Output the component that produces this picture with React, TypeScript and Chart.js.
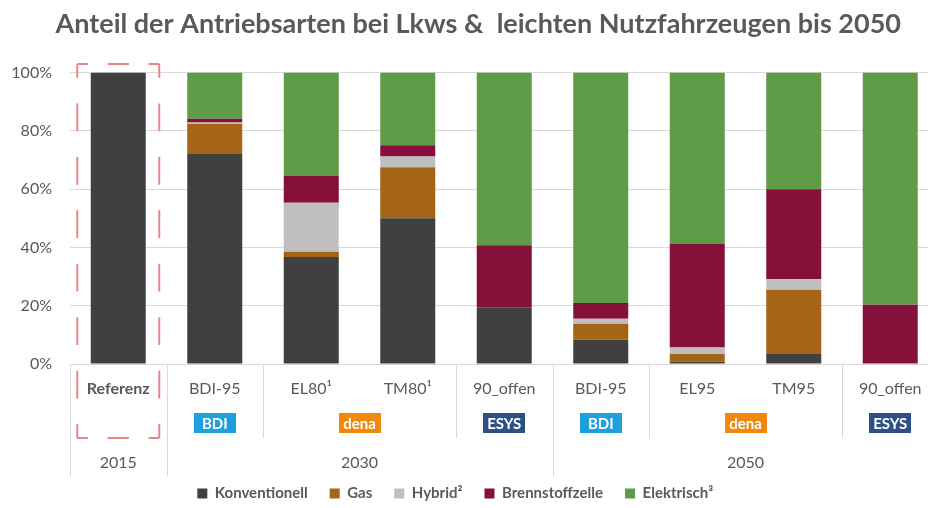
import React, { useEffect, useRef } from 'react';
import { Chart, registerables } from 'chart.js';

Chart.register(...registerables);

// ---------- data ----------
const chartTitle = 'Anteil der Antriebsarten bei Lkws &  leichten Nutzfahrzeugen bis 2050';
const categories = ['Referenz', 'BDI-95', 'EL80¹', 'TM80¹', '90_offen', 'BDI-95', 'EL95', 'TM95', '90_offen'];
const seriesNames = ['Konventionell', 'Gas', 'Hybrid²', 'Brennstoffzelle', 'Elektrisch³'];
const konventionell = [100, 72, 36.7, 50, 19.3, 8.3, 0.9, 3.4, 0];
const gas = [0, 10.3, 1.8, 17.5, 0, 5.5, 2.5, 22.1, 0];
const hybrid = [0, 0.5, 16.8, 3.7, 0, 1.7, 2.3, 3.6, 0];
const brennstoffzelle = [0, 1.3, 9.3, 3.8, 21.4, 5.4, 35.6, 30.8, 20.3];
const elektrisch = [0, 15.9, 35.4, 25, 59.3, 79.1, 58.7, 40.1, 79.7];
const yTickValues = [0, 20, 40, 60, 80, 100];
const sourceNames = ['BDI', 'dena', 'ESYS', 'BDI', 'dena', 'ESYS'];
const sourceFrom = [1, 2, 4, 5, 6, 8];
const sourceTo = [1, 3, 4, 5, 7, 8];
const yearLabels = ['2015', '2030', '2050'];
const yearFrom = [0, 1, 5];
const yearTo = [0, 4, 8];

// ---------- styles ----------
const FONT = 'Lato, "Open Sans", sans-serif';
const TEXT = '#595959';
const GRID = '#D9D9D9';
const seriesColors = ['#404040', '#A66416', '#BFBFBF', '#85103A', '#5E9C48'];
const sourceColors: Record<string, string> = { BDI: '#1DA0DB', dena: '#F0880C', ESYS: '#2E4F84' };

const seriesValues = [konventionell, gas, hybrid, brennstoffzelle, elektrisch];

function groupOf(i: number, from: number[], to: number[]) {
  for (let g = 0; g < from.length; g++) if (i >= from[g] && i <= to[g]) return g;
  return -1;
}

const overlayPlugin = {
  id: 'overlay',
  afterLayout(chart: any) {
    if (chart.titleBlock) { chart.titleBlock.left += 3; chart.titleBlock.right += 3; }
    if (chart.legend) { chart.legend.left -= 20; chart.legend.right -= 20; }
  },
  afterDraw(chart: any) {
    const ctx = chart.ctx as CanvasRenderingContext2D;
    const xs = chart.scales.x;
    const area = chart.chartArea;
    const half = (xs.getPixelForValue(1) - xs.getPixelForValue(0)) / 2;
    const bottom = area.bottom;
    const shortY = bottom + 74;
    const longY = bottom + 112;
    ctx.save();
    // separators
    ctx.strokeStyle = GRID;
    ctx.lineWidth = 1;
    const vline = (x: number, y2: number) => {
      ctx.beginPath();
      ctx.moveTo(Math.round(x) + 0.5, bottom);
      ctx.lineTo(Math.round(x) + 0.5, y2);
      ctx.stroke();
    };
    vline(xs.getPixelForValue(0) - half, longY);
    for (let i = 0; i < categories.length; i++) {
      const x = xs.getPixelForValue(i) + half;
      const yearChange = groupOf(i, yearFrom, yearTo) !== groupOf(i + 1, yearFrom, yearTo);
      const srcChange = groupOf(i, sourceFrom, sourceTo) !== groupOf(i + 1, sourceFrom, sourceTo);
      if (yearChange) vline(x, longY);
      else if (srcChange) vline(x, shortY);
    }
    // badges
    ctx.textAlign = 'center';
    ctx.textBaseline = 'middle';
    for (let g = 0; g < sourceNames.length; g++) {
      const cx = (xs.getPixelForValue(sourceFrom[g]) + xs.getPixelForValue(sourceTo[g])) / 2;
      const cy = bottom + 59;
      const w = 42, h = 20;
      ctx.fillStyle = sourceColors[sourceNames[g]];
      ctx.fillRect(Math.round(cx - w / 2), Math.round(cy - h / 2), w, h);
      ctx.fillStyle = '#FFFFFF';
      ctx.font = `bold 15px ${FONT}`;
      ctx.fillText(sourceNames[g], cx, cy + 1);
    }
    // years
    ctx.fillStyle = TEXT;
    ctx.font = `16px ${FONT}`;
    for (let g = 0; g < yearLabels.length; g++) {
      const cx = (xs.getPixelForValue(yearFrom[g]) + xs.getPixelForValue(yearTo[g])) / 2;
      ctx.fillText(yearLabels[g], cx, bottom + 99);
    }
    // dashed reference box
    const c0 = xs.getPixelForValue(0);
    const L = c0 - 41, R = c0 + 41, T = area.top - 8.5, B = shortY;
    ctx.strokeStyle = '#E8858C';
    ctx.lineWidth = 2;
    const side = (x1: number, y1: number, x2: number, y2: number) => {
      const len = Math.hypot(x2 - x1, y2 - y1);
      const k = Math.max(1, Math.round(len / 52));
      const p = len / k;
      const d = p * 0.52;
      ctx.setLineDash([d, p - d]);
      ctx.lineDashOffset = d / 2;
      ctx.beginPath();
      ctx.moveTo(x1, y1);
      ctx.lineTo(x2, y2);
      ctx.stroke();
    };
    side(L, T, R, T);
    side(R, T, R, B);
    side(R, B, L, B);
    side(L, B, L, T);
    ctx.restore();
  },
};

export default function App() {
  const canvasRef = useRef<HTMLCanvasElement | null>(null);

  useEffect(() => {
    if (!canvasRef.current) return;
    const chart = new Chart(canvasRef.current, {
      type: 'bar',
      data: {
        labels: categories,
        datasets: seriesNames.map((name, i) => ({
          label: name,
          data: seriesValues[i],
          backgroundColor: seriesColors[i],
          borderWidth: 0,
          barPercentage: 0.57,
          categoryPercentage: 1,
        })),
      },
      options: {
        animation: false,
        responsive: true,
        maintainAspectRatio: false,
        layout: { padding: { left: 12, right: 1.5, top: 0, bottom: 0 } },
        plugins: {
          title: {
            display: true,
            text: chartTitle,
            color: TEXT,
            font: { family: FONT, size: 27, weight: 'bold' },
            padding: { top: 8, bottom: 32 },
          },
          legend: {
            display: true,
            position: 'bottom',
            labels: {
              color: TEXT,
              font: { family: FONT, size: 15, weight: 'bold' },
              boxWidth: 10,
              boxHeight: 10,
              padding: 22,
            },
          },
          tooltip: { enabled: false },
        },
        scales: {
          x: {
            stacked: true,
            grid: { display: false, drawTicks: false },
            border: { display: true, color: GRID },
            ticks: {
              autoSkip: false,
              maxRotation: 0,
              padding: 15,
              color: TEXT,
              font: (c: any) => ({ family: FONT, size: 16, weight: c.index === 0 ? 'bold' : 'normal' }),
            },
            afterFit: (scale: any) => { scale.height = 100; },
          },
          y: {
            stacked: true,
            min: 0,
            max: 100,
            afterBuildTicks: (scale: any) => { scale.ticks = yTickValues.map((v) => ({ value: v })); },
            grid: { color: GRID, drawTicks: false },
            border: { display: false },
            ticks: {
              padding: 18,
              color: TEXT,
              font: { family: FONT, size: 16 },
              callback: (v: any) => `${v}%`,
            },
            afterFit: (scale: any) => { scale.width = 58; },
          },
        },
      },
      plugins: [overlayPlugin],
    });
    return () => chart.destroy();
  }, []);

  return (
    <div style={{ position: 'fixed', left: 0, top: 0, width: 928, height: 508, overflow: 'hidden', background: '#fff' }}>
      <div style={{ width: 940, height: 511 }}>
        <canvas ref={canvasRef} />
      </div>
    </div>
  );
}
